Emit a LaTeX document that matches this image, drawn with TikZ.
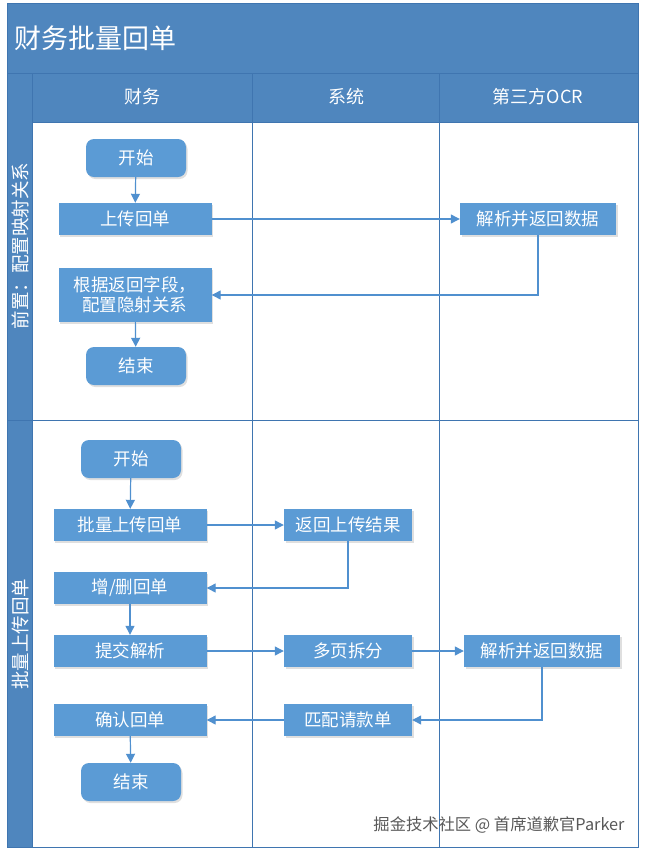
\documentclass[tikz,border=0pt]{standalone}
\usepackage{fontspec}
\setmainfont{Noto Sans CJK SC}
\usetikzlibrary{arrows.meta,shadows}
\definecolor{lanefill}{HTML}{4F86BE}
\definecolor{lanerule}{HTML}{3F75B0}
\definecolor{boxfill}{HTML}{5B9BD5}
\definecolor{flowline}{HTML}{5090CF}

\begin{document}
\begin{tikzpicture}[x=1pt, y=-1pt,
  every node/.style={font=\fontsize{17.5}{20}\selectfont, text=white},
  proc/.style={fill=boxfill, minimum width=153pt, minimum height=32pt, inner sep=0pt,
    drop shadow={opacity=0.25, shadow xshift=1.5pt, shadow yshift=-2pt}},
  midproc/.style={proc, minimum width=128pt},
  ocrproc/.style={proc, minimum width=156pt},
  term/.style={proc, minimum width=100pt, minimum height=38pt, rounded corners=8pt},
  flow/.style={draw=flowline, line width=1.2pt, -{Triangle[length=9pt,width=9pt]}},
  rule/.style={draw=lanerule, line width=0.8pt}]
 \useasboundingbox (0,0) rectangle (645,855);
 % lanes
 \fill[lanefill] (7,3) rectangle (638,122);
 \fill[lanefill] (7,122) rectangle (32,847);
 \fill[white] (32,122) rectangle (638,847);
 \draw[rule] (7,3) rectangle (638,847);
 \draw[rule] (7,73) -- (638,73);
 \draw[rule] (32,73) -- (32,847);
 \draw[rule] (32,122) -- (638,122);
 \draw[rule] (252,73) -- (252,847);
 \draw[rule] (439,73) -- (439,847);
 \draw[rule] (7,420) -- (638,420);
 \node[anchor=west, font=\fontsize{27}{30}\selectfont] (title) at (11,38) {财务批量回单};
 \node[font=\fontsize{18}{20}\selectfont] (hfin) at (142,97) {财务};
 \node[font=\fontsize{18}{20}\selectfont] (hsys) at (346,97) {系统};
 \node[font=\fontsize{18}{20}\selectfont] (hocr) at (538,97) {第三方OCR};
 \node[rotate=90, font=\fontsize{18.5}{20}\selectfont] (lane1) at (20,246) {前置：配置映射关系};
 \node[rotate=90, font=\fontsize{18.5}{20}\selectfont] (lane2) at (20,634) {批量上传回单};
 % 前置
 \node[term] (s1) at (136,158) {开始};
 \node[proc] (u1) at (135,219) {上传回单};
 \node[ocrproc] (o1) at (538,219) {解析并返回数据};
 \node[proc, minimum height=54pt, align=center] (m1) at (135,295) {根据返回字段，\\配置隐射关系};
 \node[term] (e1) at (136,366) {结束};
 \draw[flow] (s1) -- (u1);
 \draw[flow] (u1) -- (o1);
 \draw[flow] (o1.south) |- (m1.east);
 \draw[flow] (m1) -- (e1);
 % 批量上传
 \node[term] (s2) at (131,459) {开始};
 \node[proc] (b2) at (130,525) {批量上传回单};
 \node[midproc] (r2) at (348,525) {返回上传结果};
 \node[proc] (a2) at (130,588) {增/删回单};
 \node[proc] (c2) at (130,651) {提交解析};
 \node[midproc] (p2) at (348,651) {多页拆分};
 \node[ocrproc] (o2) at (542,651) {解析并返回数据};
 \node[proc] (k2) at (130,720) {确认回单};
 \node[midproc] (q2) at (348,720) {匹配请款单};
 \node[term] (e2) at (131,782) {结束};
 \draw[flow] (s2) -- (b2);
 \draw[flow] (b2) -- (r2);
 \draw[flow] (r2.south) |- (a2.east);
 \draw[flow] (a2) -- (c2);
 \draw[flow] (c2) -- (p2);
 \draw[flow] (p2) -- (o2);
 \draw[flow] (o2.south) |- (q2.east);
 \draw[flow] (q2) -- (k2);
 \draw[flow] (k2) -- (e2);
 \node[text=black!65, font=\fontsize{16.3}{18}\selectfont] (mark) at (499,825) {掘金技术社区 @ 首席道歉官Parker};
\end{tikzpicture}
\end{document}
